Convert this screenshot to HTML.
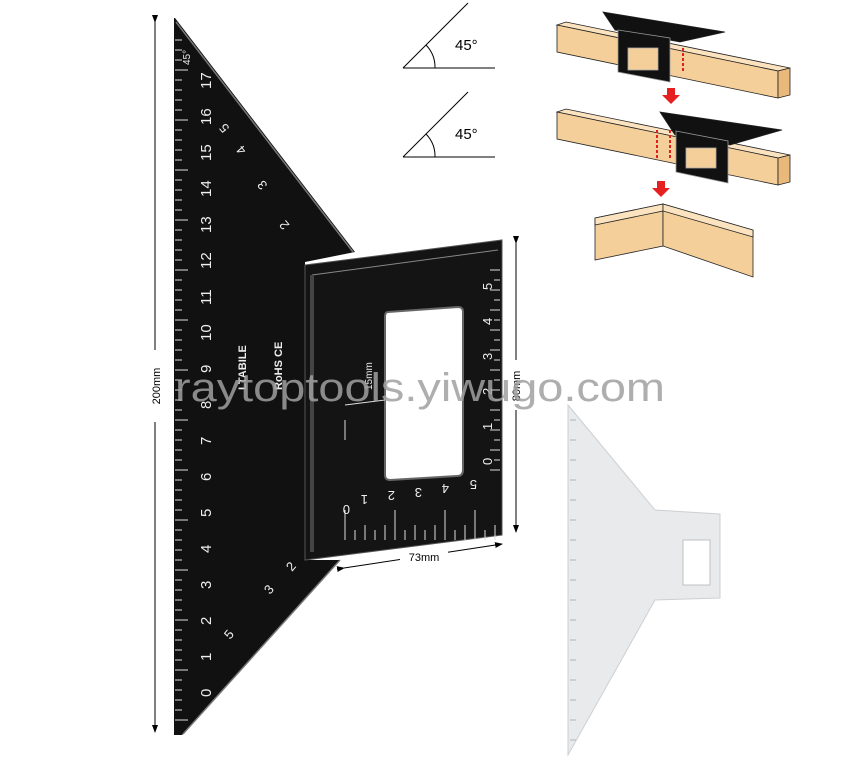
<!DOCTYPE html>
<html><head><meta charset="utf-8"><style>
body{margin:0;background:#fff;}
svg{display:block;font-family:"Liberation Sans",sans-serif;}
</style></head><body>
<svg width="842" height="768" viewBox="0 0 842 768" xmlns="http://www.w3.org/2000/svg">
<defs>
<marker id="ar" markerWidth="8" markerHeight="8" refX="7" refY="4" orient="auto"><path d="M0,1 L8,4 L0,7z" fill="#000"/></marker>
</defs>
<line x1="155" y1="22" x2="155" y2="732" stroke="#000" stroke-width="1" marker-start="url(#ar)" marker-end="url(#ar)"/>
<rect x="148" y="350" width="14" height="72" fill="#fff"/>
<text x="160" y="386" font-size="11" transform="rotate(-90 160 386)" text-anchor="middle">200mm</text>
<line x1="516" y1="243" x2="516" y2="532" stroke="#000" marker-start="url(#ar)" marker-end="url(#ar)"/>
<rect x="509" y="360" width="14" height="50" fill="#fff"/>
<text x="520" y="386" font-size="11" transform="rotate(-90 520 386)" text-anchor="middle">80mm</text>
<line x1="344" y1="568" x2="502" y2="544" stroke="#000" marker-start="url(#ar)" marker-end="url(#ar)"/>
<rect x="400" y="548" width="48" height="16" fill="#fff"/>
<text x="424" y="561" font-size="11" text-anchor="middle">73mm</text>

<polygon points="175,18 355,252 305,262 305,560 340,560 182,735 174,735 174,18" fill="#111"/>
<polyline points="176,22 353,252" stroke="#777" stroke-width="1.5" fill="none"/>
<polyline points="340,560 183,734" stroke="#777" stroke-width="1.5" fill="none"/>
<polygon points="305,265 502,240 502,535 305,560" fill="#141414" stroke="#555" stroke-width="1"/>
<polyline points="312,275 498,250" stroke="#888" fill="none"/>
<line x1="312" y1="275" x2="312" y2="552" stroke="#444" stroke-width="4"/>
<path d="M388,312 L458,307 Q463,307 463,312 L463,470 Q463,476 457,476 L390,480 Q385,480 385,475 L385,317 Q385,312 388,312z" fill="#fff" stroke="#666" stroke-width="2"/>
<g stroke="#ddd" stroke-width="1">
<path d="M175,40H182M175,50H182M175,60H182M175,70H188M175,80H182M175,90H182M175,100H182M175,110H182M175,120H188M175,130H182M175,140H182M175,150H182M175,160H182M175,170H188M175,180H182M175,190H182M175,200H182M175,210H182M175,220H188M175,230H182M175,240H182M175,250H182M175,260H182M175,270H188M175,280H182M175,290H182M175,300H182M175,310H182M175,320H188M175,330H182M175,340H182M175,350H182M175,360H182M175,370H188M175,380H182M175,390H182M175,400H182M175,410H182M175,420H188M175,430H182M175,440H182M175,450H182M175,460H182M175,470H188M175,480H182M175,490H182M175,500H182M175,510H182M175,520H188M175,530H182M175,540H182M175,550H182M175,560H182M175,570H188M175,580H182M175,590H182M175,600H182M175,610H182M175,620H188M175,630H182M175,640H182M175,650H182M175,660H182M175,670H188M175,680H182M175,690H182M175,700H182M175,710H182M175,720H188"/>
<path d="M490,270H500M494,280H500M490,290H500M494,300H500M490,310H500M494,320H500M490,330H500M494,340H500M490,350H500M494,360H500M490,370H500M494,380H500M490,390H500M494,400H500M490,410H500M494,420H500M490,430H500M494,440H500M490,450H500M494,460H500M490,470H500"/>
<path d="M345,540V510M355,540V530M365,540V525M375,540V530M385,540V525M395,540V510M405,540V530M415,540V525M425,540V530M435,540V525M445,540V510M455,540V530M465,540V525M475,540V510M485,540V530M495,540V525"/>
<line x1="345" y1="420" x2="345" y2="440"/><line x1="345" y1="405" x2="385" y2="400"/>
</g>
<g fill="#eee" font-size="15">
<text transform="translate(211,697) rotate(-90)">0</text>
<text transform="translate(211,661) rotate(-90)">1</text>
<text transform="translate(211,625) rotate(-90)">2</text>
<text transform="translate(211,589) rotate(-90)">3</text>
<text transform="translate(211,553) rotate(-90)">4</text>
<text transform="translate(211,517) rotate(-90)">5</text>
<text transform="translate(211,481) rotate(-90)">6</text>
<text transform="translate(211,445) rotate(-90)">7</text>
<text transform="translate(211,409) rotate(-90)">8</text>
<text transform="translate(211,373) rotate(-90)">9</text>
<text transform="translate(211,341) rotate(-90)">10</text>
<text transform="translate(211,305) rotate(-90)">11</text>
<text transform="translate(211,269) rotate(-90)">12</text>
<text transform="translate(211,233) rotate(-90)">13</text>
<text transform="translate(211,197) rotate(-90)">14</text>
<text transform="translate(211,161) rotate(-90)">15</text>
<text transform="translate(211,125) rotate(-90)">16</text>
<text transform="translate(211,89) rotate(-90)">17</text>
<text transform="translate(190,65) rotate(-90)" font-size="10">45°</text>
<text transform="translate(492,290) rotate(-90)" font-size="13">5</text>
<text transform="translate(492,325) rotate(-90)" font-size="13">4</text>
<text transform="translate(492,360) rotate(-90)" font-size="13">3</text>
<text transform="translate(492,395) rotate(-90)" font-size="13">2</text>
<text transform="translate(492,430) rotate(-90)" font-size="13">1</text>
<text transform="translate(492,465) rotate(-90)" font-size="13">0</text>
<text transform="translate(340,505) rotate(180)" font-size="13" x="-10">0</text>
<text transform="translate(368,495) rotate(180)" font-size="13">1</text>
<text transform="translate(395,491) rotate(180)" font-size="13">2</text>
<text transform="translate(422,488) rotate(180)" font-size="13">3</text>
<text transform="translate(449,484) rotate(180)" font-size="13">4</text>
<text transform="translate(477,480) rotate(180)" font-size="13">5</text>
<text transform="translate(247,150) rotate(-130)" font-size="13">4</text>
<text transform="translate(268,185) rotate(-130)" font-size="13">3</text>
<text transform="translate(290,225) rotate(-130)" font-size="13">2</text>
<text transform="translate(230,128) rotate(-130)" font-size="13">5</text>
<text transform="translate(230,640) rotate(-50)" font-size="13">5</text>
<text transform="translate(270,595) rotate(-50)" font-size="13">3</text>
<text transform="translate(292,572) rotate(-50)" font-size="13">2</text>
<text transform="translate(246,390) rotate(-90)" font-size="11" font-weight="bold">LTABILE</text>
<text transform="translate(282,390) rotate(-90)" font-size="11" font-weight="bold">RoHS  CE</text>
<text transform="translate(372,390) rotate(-90)" font-size="10">15mm</text>
</g>

<g opacity="0.9">
<polygon points="568,405 655,510 720,514 720,598 655,600 568,755" fill="#e6e8ea" stroke="#c8cbce"/>
<path d="M683,540 L710,540 L710,585 L683,585z" fill="#fff" stroke="#bbb"/>
<g stroke="#aaa"><path d="M570,420H576M570,440H576M570,460H576M570,480H576M570,500H576M570,520H576M570,540H576M570,560H576M570,580H576M570,600H576M570,620H576M570,640H576M570,660H576M570,680H576M570,700H576M570,720H576M570,740H576"/></g>
</g>

<text x="175" y="401" font-size="40" fill="#a0a0a0" fill-opacity="0.85" textLength="490" lengthAdjust="spacingAndGlyphs">raytoptools.yiwugo.com</text>

<g stroke="#000" fill="none" stroke-width="1">
<path d="M403,68 L468,3 M403,68 H495"/><path d="M435,68 A32,32 0 0 0 426,45"/>
<path d="M403,157 L468,92 M403,157 H495"/><path d="M435,157 A32,32 0 0 0 426,134"/>
</g>
<text x="455" y="50" font-size="15">45°</text>
<text x="455" y="139" font-size="15">45°</text>

<g stroke="#222" stroke-width="0.8">
<polygon points="557,25 566,22 790,68 778,71" fill="#fbe3c0"/>
<polygon points="557,25 778,71 778,98 557,52" fill="#f5cf99"/>
<polygon points="778,71 790,68 790,95 778,98" fill="#e8b97a"/>
<polygon points="603,12 725,32 680,42 615,30" fill="#111"/>
<polygon points="618,30 670,38 670,82 618,72" fill="#111" stroke="#999"/>
<rect x="628" y="48" width="30" height="22" fill="#f5cf99" stroke="#aaa"/>
<polygon points="557,112 566,109 790,155 778,158" fill="#fbe3c0"/>
<polygon points="557,112 778,158 778,185 557,139" fill="#f5cf99"/>
<polygon points="778,158 790,155 790,182 778,185" fill="#e8b97a"/>
<polygon points="660,112 782,130 730,145 675,135" fill="#111"/>
<polygon points="676,131 728,141 728,183 676,172" fill="#111" stroke="#999"/>
<rect x="686" y="148" width="30" height="20" fill="#f5cf99" stroke="#aaa"/>
<polygon points="595,218 663,204 663,246 595,260" fill="#f5cf99"/>
<polygon points="595,218 663,204 663,211 595,225" fill="#fbe3c0"/>
<polygon points="663,204 753,230 753,277 663,246" fill="#f5cf99"/>
<polygon points="663,204 753,230 753,237 663,211" fill="#fbe3c0"/>
</g>
<g stroke="#e02020" stroke-width="2" stroke-dasharray="3,2" fill="none"><path d="M683,48 V72 M657,130 V158 M670,130 V158"/></g>
<path d="M667,88 h8 v7 h5 l-9,9 l-9,-9 h5z" fill="#e52020"/>
<path d="M657,181 h8 v7 h5 l-9,9 l-9,-9 h5z" fill="#e52020"/>
</svg>
</body></html>
